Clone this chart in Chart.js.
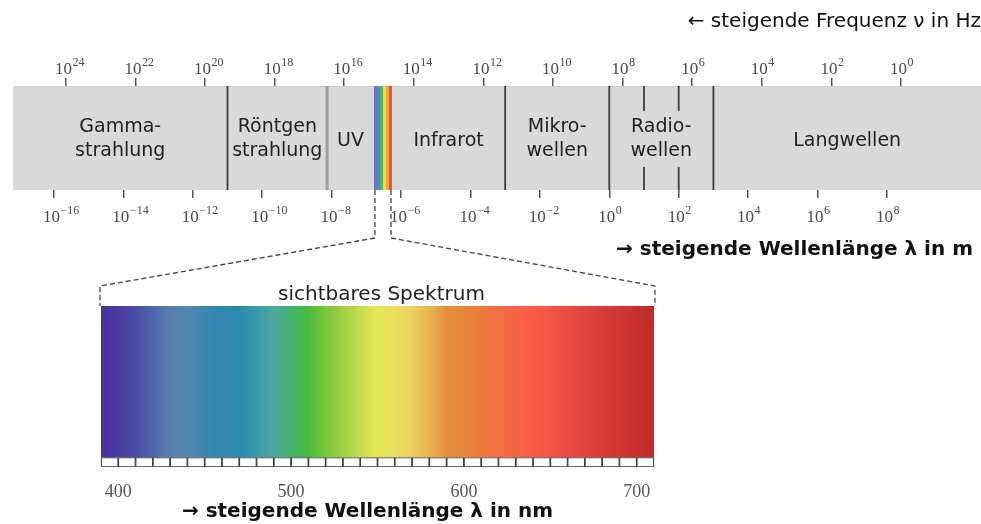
<!DOCTYPE html>
<html>
<head>
<meta charset="utf-8">
<script src="https://cdn.jsdelivr.net/npm/chart.js@4"></script>
<style>
  html, body { margin: 0; padding: 0; background: #ffffff; overflow: hidden; }
  #wrap { width: 981px; height: 524px; }
</style>
</head>
<body>
<div id="wrap"><canvas id="c" width="981" height="524"></canvas></div>
<script>
// ---------------- data ----------------
// tick exponents of the frequency axis (top) and the wavelength axis (below the band)
const FREQ_EXPONENTS = [24, 22, 20, 18, 16, 14, 12, 10, 8, 6, 4, 2, 0];
const WAVE_EXPONENTS = [-16, -14, -12, -10, -8, -6, -4, -2, 0, 2, 4, 6, 8];
// visible range of both logarithmic axes (log10 of Hz / log10 of m)
const FREQ_RANGE = [-2.30, 25.52];
const WAVE_RANGE = [-17.18, 10.71];
// boundaries between the regions (log10 of wavelength in m)
const REGION_BOUNDS = [-11, -8.13, -6.78, -6.26, -3, 0, 3];
const REGION_NAMES = [
  ['Gamma-', 'strahlung'],
  ['Röntgen', 'strahlung'],
  ['UV'],
  [],
  ['Infrarot'],
  ['Mikro-', 'wellen'],
  ['Radio-', 'wellen'],
  ['Langwellen']
];
const VISIBLE_BAND = [-6.78, -6.26];
const RADIO_SUBTICKS = [1, 2];
// visible spectrum (nm)
const NM_RANGE = [390, 710];
const NM_TICKS = [400, 500, 600, 700];
const RULER_CELLS_NM = [395, 405, 415, 425, 435, 445, 455, 465, 475, 485, 495, 505, 515, 525, 535, 545,
                        555, 565, 575, 585, 595, 605, 615, 625, 635, 645, 655, 665, 675, 685, 695, 705];
const SPECTRUM_NM = [390, 400, 410, 420, 430, 440, 450, 460, 470, 480, 490, 500, 510, 520, 530, 540, 550,
                     560, 570, 580, 590, 600, 610, 620, 630, 640, 650, 660, 670, 680, 690, 700, 710];

// ---------------- styles ----------------
const SPECTRUM_COLORS = ['#4a2f9e', '#4b3aa3', '#4a4fa6', '#4c66aa', '#5880b0', '#5287b0', '#3f86b0', '#2f87af',
  '#2b8cae', '#3a98aa', '#50a8a0', '#45b46a', '#48bb3c', '#78c63c', '#9fd044', '#c4de50', '#e6e858',
  '#ebde5c', '#eecf62', '#e9b450', '#e48f3c', '#e8853c', '#ed7a3d', '#f26f41', '#f66545', '#fa5a48',
  '#f45446', '#ea4b42', '#e0443e', '#d83c39', '#d03633', '#c8302f', '#c0292a'];
const STRIP_COLORS = ['#6f74c2', '#3f8fce', '#56b45a', '#f0dc46', '#f4a23e', '#e9543e'];
const BOUND_STYLE = ['dark', 'soft', 'none', 'none', 'dark', 'dark', 'dark'];

// ---------------- layout (pixels) ----------------
const L = {
  W: 981, H: 524,
  bandLeft: 13, bandTop: 86, bandBottom: 190,
  topAxisH: 52, bottomAxisH: 57,
  specLeft: 101, specRight: 654, specTop: 306, rulerTop: 457.5, rulerBottom: 467,
  kinkY: 238, cornerY: 286,
  radioTickTop: 0.76, radioTickBottom: 0.22
};
const areaH = L.rulerBottom - L.bandTop;
const ybMin = 1 - areaH / (L.bandBottom - L.bandTop);
const ysMax = areaH / (L.rulerBottom - L.specTop);
const rulerTopVal = (L.rulerBottom - L.rulerTop) / (L.rulerBottom - L.specTop);
const pxPerNm = (L.specRight - L.specLeft) / (NM_RANGE[1] - NM_RANGE[0]);
const xnMin = NM_RANGE[0] - (L.specLeft - L.bandLeft) / pxPerNm;
const xnMax = xnMin + (L.W - L.bandLeft) / pxPerNm;

function spectrumGradient(context) {
  const chart = context.chart;
  if (!chart.chartArea || !chart.scales.xn) return '#888';
  const xn = chart.scales.xn;
  const x0 = xn.getPixelForValue(NM_RANGE[0]);
  const x1 = xn.getPixelForValue(NM_RANGE[1]);
  const g = chart.ctx.createLinearGradient(x0, 0, x1, 0);
  SPECTRUM_NM.forEach((nm, i) => {
    g.addColorStop((nm - NM_RANGE[0]) / (NM_RANGE[1] - NM_RANGE[0]), SPECTRUM_COLORS[i]);
  });
  return g;
}
function stripGradient(context) {
  const chart = context.chart;
  if (!chart.chartArea || !chart.scales.xw) return '#888';
  const xw = chart.scales.xw;
  const x0 = xw.getPixelForValue(VISIBLE_BAND[0]);
  const x1 = xw.getPixelForValue(VISIBLE_BAND[1]);
  const g = chart.ctx.createLinearGradient(x0, 0, x1, 0);
  const n = STRIP_COLORS.length;
  STRIP_COLORS.forEach((c, i) => {
    g.addColorStop(i / n, c);
    g.addColorStop((i + 1) / n - 0.001, c);
  });
  return g;
}

// ---------------- datasets ----------------
const datasets = [];
datasets.push({
  type: 'line', xAxisID: 'xw', yAxisID: 'yb', order: 10,
  data: WAVE_RANGE.map(v => ({ x: v, y: 1 })),
  fill: { value: 0 }, backgroundColor: '#d9d9d9', borderColor: '#c6c6c6', borderWidth: 1.5, pointRadius: 0
});
datasets.push({
  type: 'line', xAxisID: 'xw', yAxisID: 'yb', order: 9,
  data: VISIBLE_BAND.map(v => ({ x: v, y: 1 })),
  fill: { value: 0 }, backgroundColor: stripGradient, borderWidth: 0, pointRadius: 0
});
REGION_BOUNDS.forEach((v, i) => {
  if (BOUND_STYLE[i] === 'none') return;
  const soft = BOUND_STYLE[i] === 'soft';
  datasets.push({
    type: 'line', xAxisID: 'xw', yAxisID: 'yb', order: 5,
    data: [{ x: v, y: 1 }, { x: v, y: 0 }],
    borderColor: soft ? '#9c9c9c' : '#3c3c3c', borderWidth: soft ? 3 : 1.8, pointRadius: 0, fill: false
  });
});
RADIO_SUBTICKS.forEach(v => {
  datasets.push({
    type: 'line', xAxisID: 'xw', yAxisID: 'yb', order: 5,
    data: [{ x: v, y: 1 }, { x: v, y: L.radioTickTop }, { x: v, y: null }, { x: v, y: L.radioTickBottom }, { x: v, y: 0 }],
    borderColor: '#3c3c3c', borderWidth: 1.8, pointRadius: 0, fill: false, spanGaps: false
  });
});
datasets.push({
  type: 'line', xAxisID: 'xn', yAxisID: 'ys', order: 3,
  data: NM_RANGE.map(v => ({ x: v, y: 1 })),
  fill: { value: rulerTopVal }, backgroundColor: spectrumGradient, borderWidth: 0, pointRadius: 0
});
datasets.push({
  type: 'bar', xAxisID: 'xn', yAxisID: 'ys', order: 2,
  data: RULER_CELLS_NM.map(v => ({ x: v, y: [0, rulerTopVal] })),
  backgroundColor: '#ffffff', borderColor: '#3e3e3e', borderWidth: 1.2, borderSkipped: false,
  barPercentage: 1, categoryPercentage: 1, grouped: false
});

// ---------------- text / annotation plugin ----------------
function drawPow(ctx, x, baseline, exp) {
  ctx.textBaseline = 'alphabetic';
  ctx.font = '17px "Liberation Serif"';
  ctx.textAlign = 'right';
  ctx.fillText('10', x + 6, baseline);
  ctx.font = '12px "Liberation Serif"';
  ctx.textAlign = 'left';
  ctx.fillText(exp < 0 ? '\u2212' + (-exp) : String(exp), x + 6.5, baseline - 8.5);
}

const annotations = {
  id: 'annotations',
  afterDraw(chart) {
    const { ctx } = chart;
    const { xf, xw, xn, yb, ys } = chart.scales;
    ctx.save();
    // dashed connector between visible band and spectrum
    const bandBottom = yb.getPixelForValue(0);
    const specTop = ys.getPixelForValue(1);
    const vL = xw.getPixelForValue(VISIBLE_BAND[0]) + 1;
    const vR = xw.getPixelForValue(VISIBLE_BAND[1]) - 1;
    const sL = xn.getPixelForValue(NM_RANGE[0]) - 1;
    const sR = xn.getPixelForValue(NM_RANGE[1]) + 1;
    ctx.strokeStyle = '#444';
    ctx.lineWidth = 1.3;
    ctx.setLineDash([5, 3]);
    ctx.beginPath();
    ctx.moveTo(vL, bandBottom); ctx.lineTo(vL, L.kinkY); ctx.lineTo(sL, L.cornerY); ctx.lineTo(sL, specTop);
    ctx.moveTo(vR, bandBottom); ctx.lineTo(vR, L.kinkY); ctx.lineTo(sR, L.cornerY); ctx.lineTo(sR, specTop);
    ctx.stroke();
    ctx.setLineDash([]);

    // power-of-ten tick labels
    ctx.fillStyle = '#4a4a4a';
    FREQ_EXPONENTS.forEach(e => drawPow(ctx, xf.getPixelForValue(e), yb.getPixelForValue(1) - 12, e));
    WAVE_EXPONENTS.forEach(e => drawPow(ctx, xw.getPixelForValue(e), bandBottom + 32, e));

    // region names
    const edges = [WAVE_RANGE[0], ...REGION_BOUNDS, WAVE_RANGE[1]];
    const mid = yb.getPixelForValue(0.5);
    ctx.fillStyle = '#222';
    ctx.font = '19px "DejaVu Sans"';
    ctx.textAlign = 'center';
    ctx.textBaseline = 'alphabetic';
    REGION_NAMES.forEach((lines, i) => {
      const cx = (xw.getPixelForValue(edges[i]) + xw.getPixelForValue(edges[i + 1])) / 2;
      if (lines.length === 1) ctx.fillText(lines[0], cx, mid + 8);
      else if (lines.length === 2) {
        ctx.fillText(lines[0], cx, mid - 6);
        ctx.fillText(lines[1], cx, mid + 18);
      }
    });

    // wavelength axis title (m)
    ctx.fillStyle = '#111';
    ctx.font = 'bold 20px "DejaVu Sans"';
    ctx.textAlign = 'right';
    ctx.fillText('\u2192 steigende Wellenlänge \u03bb in m', chart.chartArea.right - 8, bandBottom + 65);

    // visible spectrum captions
    const sCenter = (xn.getPixelForValue(NM_RANGE[0]) + xn.getPixelForValue(NM_RANGE[1])) / 2;
    ctx.font = '20px "DejaVu Sans"';
    ctx.fillStyle = '#222';
    ctx.textAlign = 'center';
    ctx.fillText('sichtbares Spektrum', sCenter + 4, specTop - 6);
    ctx.font = 'bold 20px "DejaVu Sans"';
    ctx.fillStyle = '#111';
    ctx.fillText('\u2192 steigende Wellenlänge \u03bb in nm', sCenter - 10, L.H - 7);
    ctx.restore();
  }
};

// ---------------- chart ----------------
new Chart(document.getElementById('c'), {
  type: 'line',
  data: { datasets },
  options: {
    responsive: false,
    devicePixelRatio: 1,
    animation: false,
    events: [],
    layout: { padding: { left: L.bandLeft, right: 0, top: 0, bottom: 0 } },
    plugins: {
      legend: { display: false },
      tooltip: { enabled: false },
      title: {
        display: true,
        text: '\u2190 steigende Frequenz \u03bd in Hz',
        align: 'end',
        color: '#111',
        font: { family: '"DejaVu Sans"', size: 20, weight: 'normal' },
        padding: { top: 10, bottom: 0 }
      }
    },
    scales: {
      xf: {
        type: 'linear', axis: 'x', position: 'top', reverse: true,
        min: FREQ_RANGE[0], max: FREQ_RANGE[1],
        afterBuildTicks: s => { s.ticks = FREQ_EXPONENTS.map(v => ({ value: v })); },
        afterFit: s => { s.height = L.topAxisH; },
        grid: { drawOnChartArea: false, drawTicks: true, tickLength: 8, color: '#555', lineWidth: 1.5 },
        border: { display: false },
        ticks: { display: false }
      },
      xw: {
        type: 'linear', axis: 'x', position: { yb: 0 },
        min: WAVE_RANGE[0], max: WAVE_RANGE[1],
        afterBuildTicks: s => { s.ticks = WAVE_EXPONENTS.map(v => ({ value: v })); },
        grid: { drawOnChartArea: false, drawTicks: true, tickLength: 8, color: '#555', lineWidth: 1.5 },
        border: { display: false },
        ticks: { display: false }
      },
      xn: {
        type: 'linear', axis: 'x', position: 'bottom', offset: false,
        min: xnMin, max: xnMax,
        afterBuildTicks: s => { s.ticks = NM_TICKS.map(v => ({ value: v })); },
        afterFit: s => { s.height = L.bottomAxisH; },
        grid: { display: false },
        border: { display: false },
        ticks: {
          autoSkip: false, maxRotation: 0, padding: 6,
          color: '#555', font: { family: '"Liberation Serif"', size: 18 }
        }
      },
      yb: { type: 'linear', axis: 'y', display: false, min: ybMin, max: 1 },
      ys: { type: 'linear', axis: 'y', display: false, min: 0, max: ysMax }
    }
  },
  plugins: [annotations]
});
</script>
</body>
</html>
